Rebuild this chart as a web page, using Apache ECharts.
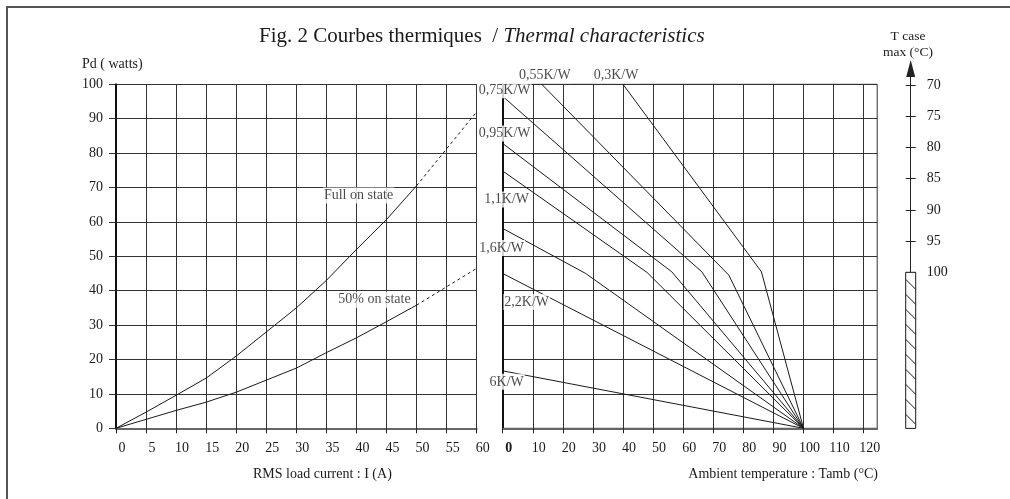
<!DOCTYPE html>
<html><head><meta charset="utf-8">
<script src="https://cdn.jsdelivr.net/npm/echarts@6/dist/echarts.min.js"></script>
<style>html,body{margin:0;padding:0;background:#fff}#c{width:1010px;height:499px}</style>
</head><body><div id="c"></div>
<script>
// ---------- data ----------
// Left panel: power vs RMS load current
const currentSolid   = [0, 5, 10, 15, 20, 25, 30, 35, 40, 45, 50];
const fullOnSolid    = [0, 4.7, 9.6, 14.6, 21, 28, 35, 43, 52, 60.7, 70.5];
const halfOnSolid    = [0, 2.6, 5.2, 7.6, 10.5, 14, 17.5, 22, 26.3, 31, 35.8];
const currentDashed  = [50, 60];
const fullOnDashed   = [70.5, 92];
const halfOnDashed   = [35.8, 46.5];
const curveNames     = ['Full on state', '50% on state'];

// Right panel: power vs ambient temperature, one line per thermal resistance
const rthNames = ['0,3K/W', '0,55K/W', '0,75K/W', '0,95K/W', '1,1K/W', '1,6K/W', '2,2K/W', '6K/W'];
const tamb03  = [40, 86, 100];    const pd03  = [100, 45.5, 0];
const tamb055 = [13, 75.2, 100];  const pd055 = [100, 44.5, 0];
const tamb075 = [0, 66.2, 100];   const pd075 = [96.5, 45.5, 0];
const tamb095 = [0, 56.2, 100];   const pd095 = [82.8, 45.5, 0];
const tamb11  = [0, 48, 100];     const pd11  = [74.8, 45.3, 0];
const tamb16  = [0, 27.6, 100];   const pd16  = [58.1, 45, 0];
const tamb22  = [0, 100];         const pd22  = [45, 0];
const tamb6   = [0, 100];         const pd6   = [16.7, 0];

// Tick labels
const ambientTicks = [0, 10, 20, 30, 40, 50, 60, 70, 80, 90, 100, 110, 120];
const tcaseTicks   = [70, 75, 80, 85, 90, 95, 100];
const tcaseBand    = [100, 125];   // hatched zone on the T case scale

// ---------- styling ----------
const FONT = 'Liberation Serif';
const INK = '#1a1a1a';
const rthLabelOffsets = [[-7, -9], [3, -9], [2, -6], [2, -10], [4, 28.5], [-1, 19.5], [24, 28.5], [4, 11]];
const curveLabelOffsets = [[-28, -24], [-12, -22]];

const ambientSeries = [tamb03, tamb055, tamb075, tamb095, tamb11, tamb16, tamb22, tamb6];
const powerSeries   = [pd03, pd055, pd075, pd095, pd11, pd16, pd22, pd6];
const zip = (xs, ys) => xs.map((x, i) => [x, ys[i]]);

const grid = {show: true, lineStyle: {color: '#333', width: 1}};
const lineBase = {type: 'line', symbol: 'none', silent: true, lineStyle: {color: INK, width: 1}};

const series = [
  Object.assign({}, lineBase, {xAxisIndex: 0, yAxisIndex: 0, data: zip(currentSolid, fullOnSolid)}),
  Object.assign({}, lineBase, {xAxisIndex: 0, yAxisIndex: 0, data: zip(currentSolid, halfOnSolid)}),
  Object.assign({}, lineBase, {xAxisIndex: 0, yAxisIndex: 0, data: zip(currentDashed, fullOnDashed), lineStyle: {color: INK, width: 1, type: [3, 3]}}),
  Object.assign({}, lineBase, {xAxisIndex: 0, yAxisIndex: 0, data: zip(currentDashed, halfOnDashed), lineStyle: {color: INK, width: 1, type: [3, 3]}}),
  {
    type: 'scatter', xAxisIndex: 0, yAxisIndex: 0, silent: true, z: 10,
    symbol: 'rect', symbolSize: 1, itemStyle: {color: 'transparent'},
    data: [
      {name: curveNames[0], value: [currentSolid[9], fullOnSolid[9]], label: {offset: curveLabelOffsets[0]}},
      {name: curveNames[1], value: [currentSolid[9], halfOnSolid[9]], label: {offset: curveLabelOffsets[1]}}
    ],
    label: {show: true, formatter: '{b}', position: 'inside', fontFamily: FONT, fontSize: 14, color: INK,
            backgroundColor: '#fff', padding: [1, 1], lineHeight: 14}
  }
];
ambientSeries.forEach((t, i) => {
  series.push(Object.assign({}, lineBase, {xAxisIndex: 1, yAxisIndex: 1, data: zip(t, powerSeries[i])}));
});
series.push({
  type: 'scatter', xAxisIndex: 1, yAxisIndex: 1, silent: true, z: 10,
  symbol: 'rect', symbolSize: 1, itemStyle: {color: 'transparent'},
  data: rthNames.map((n, i) => ({name: n, value: [ambientSeries[i][0], powerSeries[i][0]], label: {offset: rthLabelOffsets[i]}})),
  label: {show: true, formatter: '{b}', position: 'inside', fontFamily: FONT, fontSize: 14, color: INK,
          backgroundColor: '#fff', padding: [1, 1], lineHeight: 14}
});
series.push({
  type: 'custom', xAxisIndex: 2, yAxisIndex: 2, silent: true, clip: false, z: 5,
  data: [[0, tcaseBand[0], tcaseBand[1]]],
  renderItem: function (params, api) {
    const top = api.coord([api.value(0), api.value(1)]);
    const bot = api.coord([api.value(0), api.value(2)]);
    const w = 10, x0 = top[0] - w / 2, x1 = top[0] + w / 2;
    const children = [{type: 'rect', shape: {x: x0, y: top[1], width: w, height: bot[1] - top[1]},
                       style: {fill: '#fff', stroke: INK, lineWidth: 1}}];
    for (let y = top[1] + 7; y + 10 <= bot[1]; y += 15) {
      children.push({type: 'line', shape: {x1: x0, y1: y, x2: x1, y2: y + 10}, style: {stroke: INK, lineWidth: 1}});
    }
    return {type: 'group', children: children};
  }
});

const axisLabelStyle = {fontFamily: FONT, fontSize: 14, color: INK};

const option = {
  animation: false,
  textStyle: {fontFamily: FONT},
  title: {
    text: '{a|Fig. 2 Courbes thermiques  / }{b|Thermal characteristics}',
    left: 254, top: 21,
    textStyle: {fontWeight: 'normal', rich: {
      a: {fontFamily: FONT, fontSize: 21, fontWeight: 'normal', color: INK},
      b: {fontFamily: FONT, fontSize: 21, fontWeight: 'normal', fontStyle: 'italic', color: INK}}}
  },
  grid: [
    {left: 116, top: 84.3, width: 360.7, height: 344},
    {left: 502.7, top: 84.3, width: 374.5, height: 344, show: true, borderColor: '#333', borderWidth: 1, backgroundColor: 'transparent'},
    {left: 910.7, top: 68.5, width: 10, height: 359.9},
    {left: 910.7, top: 68.5, width: 10, height: 359.9}
  ],
  xAxis: [
    {gridIndex: 0, type: 'value', min: 0, max: 60, interval: 5,
     axisLine: {lineStyle: {color: '#666', width: 2}},
     axisTick: {show: true, length: 5, lineStyle: {color: '#222'}},
     axisLabel: Object.assign({margin: 13, padding: [0, 0, 0, 12]}, axisLabelStyle),
     splitLine: grid},
    {gridIndex: 1, type: 'value', min: 0, max: 124.5, interval: 10,
     axisLine: {lineStyle: {color: '#666', width: 2}},
     axisTick: {show: true, length: 5, customValues: ambientTicks, lineStyle: {color: '#222'}},
     axisLabel: Object.assign({margin: 13, padding: [0, 0, 0, 12], customValues: ambientTicks,
       formatter: v => (v === 0 ? '{b|0}' : String(v)), rich: {b: {fontFamily: FONT, fontSize: 14, fontWeight: 'bold', color: INK}}}, axisLabelStyle),
     splitLine: grid},
    {gridIndex: 2, type: 'value', min: 0, max: 1, show: false},
    {gridIndex: 3, type: 'value', min: 0, max: 1, show: false}
  ],
  yAxis: [
    {gridIndex: 0, type: 'value', min: 0, max: 100, interval: 10,
     axisLine: {show: true, lineStyle: {color: '#111', width: 2}},
     axisTick: {show: true, length: 7, lineStyle: {color: '#333'}},
     axisLabel: Object.assign({margin: 13}, axisLabelStyle),
     splitLine: grid},
    {gridIndex: 1, type: 'value', min: 0, max: 100, interval: 10,
     axisLine: {show: true, lineStyle: {color: '#111', width: 2}},
     axisTick: {show: false}, axisLabel: {show: false},
     splitLine: grid},
    {gridIndex: 2, type: 'value', min: 67.36, max: 125, inverse: true, position: 'left',
     axisLine: {show: true, lineStyle: {color: '#222', width: 1}, symbol: ['none', 'triangle'], symbolSize: [9, 17]},
     axisTick: {show: true, length: 5, customValues: tcaseTicks, lineStyle: {color: '#222'}},
     axisLabel: Object.assign({margin: 16, inside: true, customValues: tcaseTicks}, axisLabelStyle),
     splitLine: {show: false}},
    {gridIndex: 3, type: 'value', min: 67.36, max: 125, inverse: true, position: 'left',
     axisLine: {show: false},
     axisTick: {show: true, inside: true, length: 5, customValues: tcaseTicks, lineStyle: {color: '#222'}},
     axisLabel: {show: false}, splitLine: {show: false}}
  ],
  graphic: [
    {type: 'rect', silent: true, z: -1, shape: {x: 7, y: 7, width: 1100, height: 600}, style: {fill: 'none', stroke: '#555', lineWidth: 2}},
    {type: 'text', silent: true, style: {text: 'Pd ( watts)', x: 82, y: 64, font: '14px "Liberation Serif"', fill: INK, textVerticalAlign: 'middle'}},
    {type: 'text', silent: true, style: {text: 'T case', x: 908, y: 36, font: '13.5px "Liberation Serif"', fill: INK, textAlign: 'center', textVerticalAlign: 'middle'}},
    {type: 'text', silent: true, style: {text: 'max (°C)', x: 908, y: 52, font: '13.5px "Liberation Serif"', fill: INK, textAlign: 'center', textVerticalAlign: 'middle'}},
    {type: 'text', silent: true, style: {text: 'RMS load current : I (A)', x: 253, y: 474, font: '14px "Liberation Serif"', fill: INK, textVerticalAlign: 'middle'}},
    {type: 'text', silent: true, style: {text: 'Ambient temperature : Tamb (°C)', x: 878, y: 474, font: '14px "Liberation Serif"', fill: INK, textAlign: 'right', textVerticalAlign: 'middle'}}
  ],
  series: series
};
const chart = echarts.init(document.getElementById('c'));
chart.setOption(option);
</script>
</body></html>
